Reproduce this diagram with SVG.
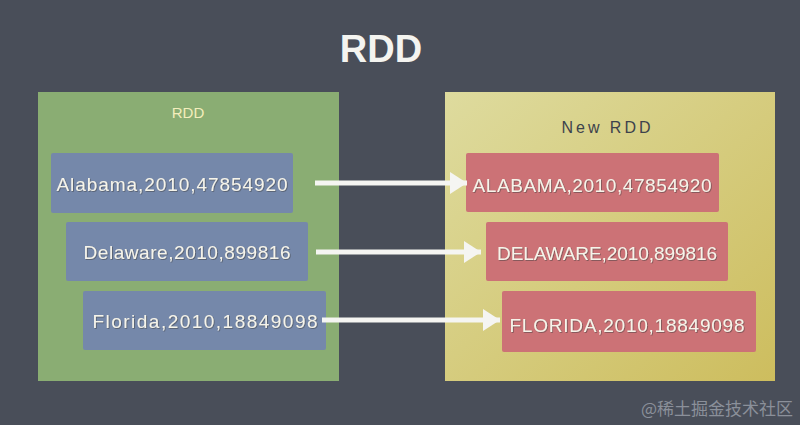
<svg xmlns="http://www.w3.org/2000/svg" width="800" height="425" viewBox="0 0 800 425">
<defs>
<style>
.box-text{font-family:"Liberation Sans",Arial,sans-serif;font-size:19px;fill:#f6f4ea;text-anchor:middle}
.blue{fill:#7588aa}
.red{fill:#cc7276}
.conn{stroke:#f5f5f2;stroke-width:5;fill:none;marker-end:url(#ah)}
</style>
<linearGradient id="yg" x1="0" y1="0" x2="1" y2="1">
<stop offset="0" stop-color="#dedb9e"/>
<stop offset="1" stop-color="#cdbd5e"/>
</linearGradient>
<filter id="sh" x="-5%" y="-20%" width="110%" height="140%">
<feDropShadow dx="0.8" dy="0.8" stdDeviation="0.5" flood-color="#3a3a3a" flood-opacity="0.6"/>
</filter>
<marker id="ah" markerUnits="userSpaceOnUse" markerWidth="22" markerHeight="26" refX="20" refY="13" orient="auto">
<path d="M3,2 L20,13 L3,24 Z" fill="#f5f5f2"/>
</marker>
</defs>
<rect width="800" height="425" fill="#494e59"/>
<text x="381" y="62" font-family="Liberation Sans,Arial,sans-serif" font-size="38" font-weight="bold" fill="#f4f4f0" text-anchor="middle">RDD</text>

<g id="rdd-left">
<rect x="38" y="92" width="301" height="289" fill="#8aad73"/>
<text x="188" y="118" font-family="Liberation Sans,Arial,sans-serif" font-size="15" fill="#f3eebc" text-anchor="middle">RDD</text>
</g>
<g id="rdd-right">
<rect x="445" y="92" width="330" height="289" fill="url(#yg)"/>
<text x="606" y="133" font-family="Liberation Sans,Arial,sans-serif" font-size="16" fill="#3d424c" text-anchor="middle" textLength="89" lengthAdjust="spacing">New RDD</text>
</g>

<g id="n-alabama">
<rect class="blue" x="51" y="153" width="242" height="60" rx="2"/>
<text class="box-text" x="172" y="191" textLength="231" lengthAdjust="spacing" filter="url(#sh)">Alabama,2010,47854920</text>
</g>
<g id="n-delaware">
<rect class="blue" x="66" y="222" width="242" height="59" rx="2"/>
<text class="box-text" x="187" y="259" textLength="207" lengthAdjust="spacing" filter="url(#sh)">Delaware,2010,899816</text>
</g>
<g id="n-florida">
<rect class="blue" x="83" y="291" width="243" height="59" rx="2"/>
<text class="box-text" x="205" y="328" textLength="225" lengthAdjust="spacing" filter="url(#sh)">Florida,2010,18849098</text>
</g>

<g id="n-ALABAMA">
<rect class="red" x="466" y="153" width="253" height="59" rx="2"/>
<text class="box-text" x="592" y="192" textLength="239" lengthAdjust="spacing" filter="url(#sh)">ALABAMA,2010,47854920</text>
</g>
<g id="n-DELAWARE">
<rect class="red" x="486" y="222" width="242" height="59" rx="2"/>
<text class="box-text" x="607" y="260" textLength="220" lengthAdjust="spacing" filter="url(#sh)">DELAWARE,2010,899816</text>
</g>
<g id="n-FLORIDA">
<rect class="red" x="502" y="291" width="254" height="61" rx="2"/>
<text class="box-text" x="627" y="332" textLength="235" lengthAdjust="spacing" filter="url(#sh)">FLORIDA,2010,18849098</text>
</g>

<g id="connectors">
<line class="conn" x1="315" y1="183" x2="467" y2="183"/>
<line class="conn" x1="316" y1="252" x2="481" y2="252"/>
<line class="conn" x1="322" y1="320" x2="500" y2="320"/>
</g>

<text x="793" y="415" font-family="Noto Sans CJK SC,sans-serif" font-size="17" fill="#8b909a" text-anchor="end">@稀土掘金技术社区</text>
</svg>
